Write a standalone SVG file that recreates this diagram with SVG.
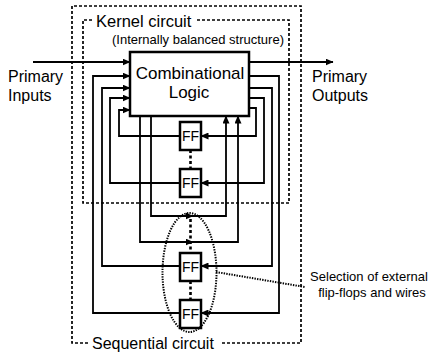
<svg xmlns="http://www.w3.org/2000/svg" width="430" height="355" viewBox="0 0 430 355">
<defs>
<marker id="ah" markerUnits="userSpaceOnUse" markerWidth="8" markerHeight="7" refX="7.5" refY="3.5" orient="auto"><path d="M0,0 L8,3.5 L0,7 z" fill="#000"/></marker>
</defs>
<style>
.w{fill:none;stroke:#000;stroke-width:1.8}
.a{marker-end:url(#ah)}
.d{fill:none;stroke:#000;stroke-width:1.7;stroke-dasharray:3 2}
.dot{fill:none;stroke:#000;stroke-width:2;stroke-dasharray:1.4 1.2}
.chain{fill:none;stroke:#000;stroke-width:2.6;stroke-dasharray:3 2.5}
.box{fill:#fff;stroke:#000;stroke-width:2.5}
text{font-family:"Liberation Sans",Arial,Helvetica,sans-serif;fill:#000}
.ff{font-size:14px;text-anchor:middle}
</style>
<rect width="430" height="355" fill="#fff"/>
<g id="sequential-circuit">
<path class="d" d="M88,343 H72 V6 H301 V343 H222"/>
<text x="92" y="349" font-size="16">Sequential circuit</text>
</g>
<g id="kernel-circuit">
<path class="d" d="M92,20 H83 V203 H289 V20 H197"/>
<text x="96" y="27" font-size="16.5">Kernel circuit</text>
<text x="112" y="44" font-size="13">(Internally balanced structure)</text>
</g>
<g id="connectors">
<path class="w a" d="M33,62 H130"/>
<path class="w a" d="M249,62 H333"/>
<path class="w a" d="M180,313 H93 V76 H130"/>
<path class="w a" d="M180,266 H102 V88 H130"/>
<path class="w a" d="M180,183 H110 V98 H130"/>
<path class="w a" d="M180,136 H119 V110 H130"/>
<path class="w a" d="M249,76 H279 V313 H201"/>
<path class="w a" d="M249,88 H272 V266 H201"/>
<path class="w a" d="M249,98 H264 V183 H201"/>
<path class="w a" d="M249,108 H256 V136 H201"/>
<path class="w a" d="M151,116 V216 H226 V116"/>
<path class="w a" d="M140,116 V242 H238 V116"/>
<path class="w a" d="M184,216 H193"/>
<path class="w a" d="M184,242 H193"/>
<path class="chain" d="M190.5,150 V169"/>
<path class="chain" d="M190.5,219 V253"/>
<path class="chain" d="M190.5,281 V300"/>
<path class="dot" d="M216,272 L305,287"/>
</g>
<g id="combinational-logic">
<rect class="box" x="130" y="52" width="119" height="64"/>
<text x="190" y="79" font-size="17" text-anchor="middle">Combinational</text>
<text x="189" y="98" font-size="17" text-anchor="middle">Logic</text>
</g>
<g id="ff1"><rect class="box" x="180" y="122" width="21" height="28"/><text class="ff" x="190.5" y="140.5">FF</text></g>
<g id="ff2"><rect class="box" x="180" y="169" width="21" height="28"/><text class="ff" x="190.5" y="187.5">FF</text></g>
<g id="ff3"><rect class="box" x="180" y="253" width="21" height="28"/><text class="ff" x="190.5" y="271.5">FF</text></g>
<g id="ff4"><rect class="box" x="180" y="300" width="21" height="28"/><text class="ff" x="190.5" y="318.5">FF</text></g>
<g id="selection">
<ellipse class="dot" cx="189.5" cy="272.5" rx="27" ry="59.5"/>
</g>
<g id="primary-inputs">
<text x="8" y="82" font-size="16">Primary</text>
<text x="8" y="101" font-size="16">Inputs</text>
</g>
<g id="primary-outputs">
<text x="312" y="82" font-size="16">Primary</text>
<text x="312" y="101" font-size="16">Outputs</text>
</g>
<g id="selection-label">
<text x="369" y="281" font-size="13" text-anchor="middle">Selection of external</text>
<text x="372" y="297" font-size="13" text-anchor="middle">flip-flops and wires</text>
</g>
</svg>
